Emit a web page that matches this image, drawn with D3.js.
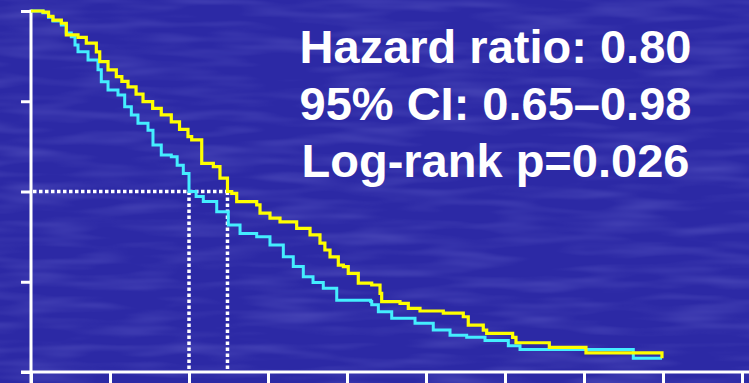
<!DOCTYPE html>
<html>
<head>
<meta charset="utf-8">
<script src="https://cdn.jsdelivr.net/npm/d3@7"></script>
<style>
html,body{margin:0;padding:0;background:#2C29A5;}
svg{display:block;}
</style>
</head>
<body>
<script>
// ---- data (time units, survival fraction) ----
const xTicks = [0,1,2,3,4,5,6,7,8,9];
const yTicks = [0,0.25,0.5,0.75,1];
const yellowTime = [0,0.152,0.222,0.278,0.384,0.447,0.595,0.700,0.827,0.870,0.975,1.080,1.150,1.228,1.330,1.418,1.540,1.649,1.776,1.880,1.987,2.034,2.161,2.308,2.392,2.487,2.541,2.604,2.857,2.899,3.025,3.152,3.363,3.532,3.658,3.720,3.785,3.890,3.954,4.016,4.143,4.313,4.418,4.439,4.671,4.776,4.924,5.219,5.472,5.535,5.725,5.768,6.097,6.139,6.561,7.025,7.987];
const yellowSurv = [1,0.997,0.985,0.975,0.966,0.934,0.927,0.911,0.887,0.860,0.837,0.818,0.805,0.790,0.770,0.749,0.730,0.712,0.693,0.672,0.652,0.643,0.578,0.569,0.537,0.500,0.495,0.472,0.463,0.440,0.426,0.416,0.398,0.380,0.357,0.338,0.319,0.296,0.292,0.273,0.246,0.241,0.218,0.195,0.190,0.176,0.169,0.163,0.153,0.130,0.116,0.107,0.096,0.081,0.068,0.053,0.038];
const cyanTime = [0,0.152,0.222,0.278,0.384,0.447,0.510,0.557,0.595,0.722,0.848,0.890,0.975,1.101,1.186,1.270,1.354,1.481,1.544,1.649,1.776,1.850,1.928,2.000,2.090,2.181,2.351,2.497,2.646,2.857,3.025,3.194,3.320,3.447,3.570,3.700,3.870,4.300,4.313,4.397,4.566,4.861,5.092,5.304,5.515,5.747,6.042,6.190,7.624,7.987];
const cyanSurv = [1,0.995,0.983,0.972,0.961,0.939,0.929,0.906,0.887,0.864,0.837,0.804,0.781,0.767,0.735,0.712,0.689,0.670,0.629,0.601,0.596,0.573,0.550,0.500,0.486,0.472,0.444,0.407,0.384,0.375,0.352,0.319,0.292,0.264,0.248,0.232,0.199,0.195,0.186,0.167,0.149,0.135,0.116,0.102,0.096,0.087,0.073,0.062,0.038,0.038];
const medianCyan = 2.0;
const medianYellow = 2.487;
const statLines = ["Hazard ratio: 0.80","95% CI: 0.65\u20130.98","Log-rank p=0.026"];

const W = 749, H = 383;
const svg = d3.select("body").append("svg").attr("width",W).attr("height",H);

// background with subtle streak texture
const defs = svg.append("defs");
const f = defs.append("filter").attr("id","tex").attr("x",0).attr("y",0).attr("width","100%").attr("height","100%");
f.append("feTurbulence").attr("type","fractalNoise").attr("baseFrequency","0.012 0.09").attr("numOctaves",2).attr("seed",3).attr("result","n");
f.append("feColorMatrix").attr("in","n").attr("type","matrix")
  .attr("values","0 0 0 0 0.28  0 0 0 0 0.28  0 0 0 0 0.78  0 0 0 1.1 -0.45");
svg.append("rect").attr("width",W).attr("height",H).attr("fill","#2C29A5");
svg.append("rect").attr("width",W).attr("height",H).attr("filter","url(#tex)").attr("opacity",0.45);

const x = d3.scaleLinear().domain([0,9]).range([31,742]);
const y = d3.scaleLinear().domain([0,1]).range([372,11]);

// axes
const gx = svg.append("g").attr("transform","translate(0,372)")
  .call(d3.axisBottom(x).tickValues(xTicks).tickSize(14).tickFormat(""));
gx.select(".domain").remove();
gx.selectAll(".tick line").attr("stroke","#fff").attr("stroke-width",3);
svg.append("line").attr("x1",21).attr("x2",W).attr("y1",372).attr("y2",372).attr("stroke","#fff").attr("stroke-width",3);

const gy = svg.append("g").attr("transform","translate(31,0)")
  .call(d3.axisLeft(y).tickValues(yTicks).tickSize(10).tickFormat(""));
gy.select(".domain").remove();
gy.selectAll(".tick line").attr("stroke","#fff").attr("stroke-width",3);
svg.append("line").attr("x1",31).attr("x2",31).attr("y1",y(1)-1.5).attr("y2",383).attr("stroke","#fff").attr("stroke-width",3);

// median dotted lines
const dot = {stroke:"#fff","stroke-width":3.5,"stroke-dasharray":"3.5,2.5"};
function dl(x1,y1,x2,y2){
  const l = svg.append("line").attr("x1",x1).attr("y1",y1).attr("x2",x2).attr("y2",y2);
  for (const k in dot) l.attr(k,dot[k]);
}
dl(x(0)+2, y(0.5), x(medianYellow)+1.5, y(0.5));
dl(x(medianCyan), y(0.5), x(medianCyan), y(0)-2);
dl(x(medianYellow), y(0.5), x(medianYellow), y(0)-2);

// curves
const line = d3.line().x(d=>x(d[0])).y(d=>y(d[1])).curve(d3.curveStepAfter);
const cyanData = cyanTime.map((t,i)=>[t,cyanSurv[i]]);
const yellowData = yellowTime.map((t,i)=>[t,yellowSurv[i]]);
svg.append("path").datum(cyanData).attr("d",line).attr("fill","none").attr("stroke","#44EEFF").attr("stroke-width",3);
svg.append("path").datum(yellowData).attr("d",line).attr("fill","none").attr("stroke","#FFFF00").attr("stroke-width",3.2);

// stats text
const txt = svg.append("text").attr("fill","#fff")
  .attr("font-family","Liberation Sans, Arial, sans-serif").attr("font-weight","bold").attr("font-size",47)
  .attr("text-anchor","middle");
statLines.forEach((s,i)=>{
  txt.append("tspan").attr("x",495.5).attr("y",63+i*57).text(s);
});
</script>
</body>
</html>
